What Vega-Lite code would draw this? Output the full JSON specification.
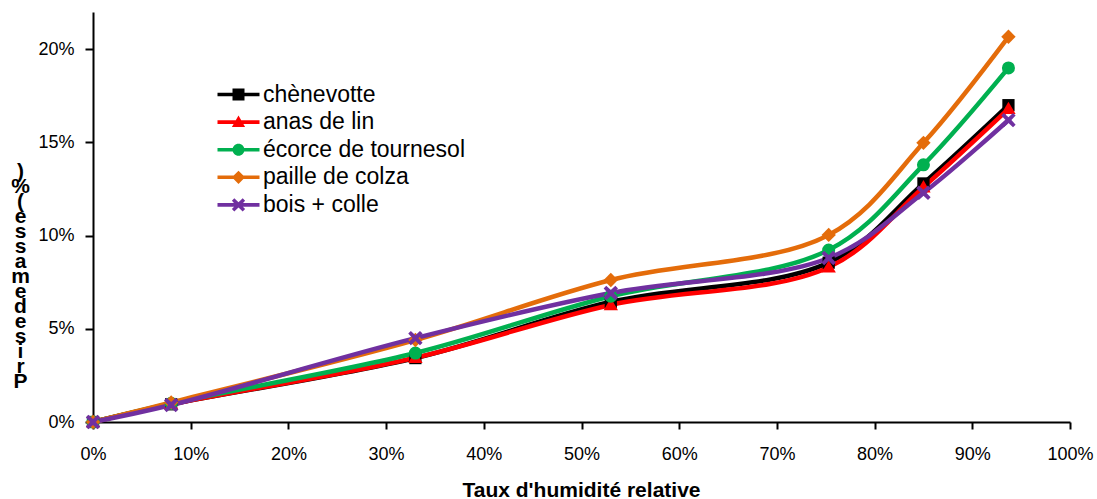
{
  "$schema": "https://vega.github.io/schema/vega-lite/v6.json",
  "width": 977,
  "height": 410,
  "autosize": {"type": "none"},
  "padding": {"left": 93, "top": 12, "right": 27, "bottom": 77},
  "background": "white",
  "config": {
    "view": {"stroke": null},
    "font": "Liberation Sans",
    "axisY": {"titleFontSize": 21, "titleLineHeight": 15, "titleFontWeight": "bold"}
  },
  "data": {
    "values": [
      {"material": "chènevotte", "rh": 0, "gain": 0},
      {"material": "chènevotte", "rh": 0.08, "gain": 0.0095},
      {"material": "chènevotte", "rh": 0.33, "gain": 0.0343},
      {"material": "chènevotte", "rh": 0.53, "gain": 0.0645},
      {"material": "chènevotte", "rh": 0.753, "gain": 0.0855},
      {"material": "chènevotte", "rh": 0.85, "gain": 0.128},
      {"material": "chènevotte", "rh": 0.937, "gain": 0.170},
      {"material": "anas de lin", "rh": 0, "gain": 0},
      {"material": "anas de lin", "rh": 0.08, "gain": 0.0095},
      {"material": "anas de lin", "rh": 0.33, "gain": 0.0345},
      {"material": "anas de lin", "rh": 0.53, "gain": 0.0628},
      {"material": "anas de lin", "rh": 0.753, "gain": 0.083},
      {"material": "anas de lin", "rh": 0.85, "gain": 0.126},
      {"material": "anas de lin", "rh": 0.937, "gain": 0.168},
      {"material": "écorce de tournesol", "rh": 0, "gain": 0},
      {"material": "écorce de tournesol", "rh": 0.08, "gain": 0.010},
      {"material": "écorce de tournesol", "rh": 0.33, "gain": 0.037},
      {"material": "écorce de tournesol", "rh": 0.53, "gain": 0.0675},
      {"material": "écorce de tournesol", "rh": 0.753, "gain": 0.0923},
      {"material": "écorce de tournesol", "rh": 0.85, "gain": 0.138},
      {"material": "écorce de tournesol", "rh": 0.937, "gain": 0.190},
      {"material": "paille de colza", "rh": 0, "gain": 0},
      {"material": "paille de colza", "rh": 0.08, "gain": 0.0105},
      {"material": "paille de colza", "rh": 0.33, "gain": 0.044},
      {"material": "paille de colza", "rh": 0.53, "gain": 0.0762},
      {"material": "paille de colza", "rh": 0.753, "gain": 0.1004},
      {"material": "paille de colza", "rh": 0.85, "gain": 0.1498},
      {"material": "paille de colza", "rh": 0.937, "gain": 0.2067},
      {"material": "bois + colle", "rh": 0, "gain": 0},
      {"material": "bois + colle", "rh": 0.08, "gain": 0.0091},
      {"material": "bois + colle", "rh": 0.33, "gain": 0.045},
      {"material": "bois + colle", "rh": 0.53, "gain": 0.0692},
      {"material": "bois + colle", "rh": 0.753, "gain": 0.088},
      {"material": "bois + colle", "rh": 0.85, "gain": 0.123},
      {"material": "bois + colle", "rh": 0.937, "gain": 0.162}
    ]
  },
  "encoding": {
    "x": {
      "field": "rh",
      "type": "quantitative",
      "scale": {"domain": [0, 1], "nice": false, "zero": true},
      "axis": {
        "values": [0, 0.1, 0.2, 0.3, 0.4, 0.5, 0.6, 0.7, 0.8, 0.9, 1],
        "format": ".0%",
        "grid": false,
        "labelFlush": false,
        "labelOverlap": false,
        "domainColor": "black",
        "domainWidth": 2,
        "tickColor": "black",
        "tickWidth": 2,
        "tickSize": 7,
        "labelFontSize": 18,
        "labelColor": "black",
        "labelPadding": 16,
        "labelFont": "Liberation Sans",
        "title": "Taux d'humidité relative",
        "titleFontSize": 21,
        "titleFontWeight": "bold",
        "titleColor": "black",
        "titleBaseline": "alphabetic",
        "titleY": 74,
        "titleX": 488
      }
    },
    "y": {
      "field": "gain",
      "type": "quantitative",
      "scale": {"domain": [0, 0.22], "nice": false},
      "axis": {
        "values": [0, 0.05, 0.1, 0.15, 0.2],
        "format": ".0%",
        "grid": false,
        "labelFlush": false,
        "domainColor": "black",
        "domainWidth": 2,
        "tickColor": "black",
        "tickWidth": 2,
        "tickSize": 8,
        "labelFontSize": 18,
        "labelColor": "black",
        "labelPadding": 11,
        "title": [")", "%", "(", " ", "e", "s", "s", "a", "m", " ", "e", "d", " ", "e", "s", "i", "r", "P"],
        "titleAngle": 0,
        "titleFontSize": 21,
        "titleFontWeight": "bold",
        "titleColor": "black",
        "titleLineHeight": 15,
        "titleAlign": "center",
        "titleBaseline": "top",
        "titleX": -73,
        "titleY": 148
      }
    },
    "color": {
      "field": "material",
      "type": "nominal",
      "sort": ["chènevotte", "anas de lin", "écorce de tournesol", "paille de colza", "bois + colle"],
      "scale": {
        "domain": ["chènevotte", "anas de lin", "écorce de tournesol", "paille de colza", "bois + colle"],
        "range": ["#000000", "#FF0000", "#00B050", "#E46C0A", "#7030A0"]
      },
      "legend": {
        "orient": "none",
        "legendX": 134,
        "legendY": 71,
        "title": null,
        "padding": 0,
        "labelFontSize": 23,
        "labelColor": "black",
        "labelFont": "Liberation Sans",
        "labelLimit": 500,
        "symbolSize": 144,
        "labelOffset": 13,
        "rowPadding": 3.6,
        "encode": {
          "symbols": {
            "update": {
              "shape": {"signal": "datum.value === 'chènevotte' ? 'M-3.5,-0.3H3.5V0.3H-3.5Z M-1,-1H1V1H-1Z' : datum.value === 'anas de lin' ? 'M-3.5,-0.3H3.5V0.3H-3.5Z M0,-1.1L1.1,0.8H-1.1Z' : datum.value === 'écorce de tournesol' ? 'M-3.5,-0.3H3.5V0.3H-3.5Z M-1,0A1,1,0,1,1,1,0A1,1,0,1,1,-1,0Z' : datum.value === 'paille de colza' ? 'M-3.5,-0.3H3.5V0.3H-3.5Z M0,-1.1L1.1,0L0,1.1L-1.1,0Z' : 'M-3.5,-0.3H3.5V0.3H-3.5Z M-1.1,-0.7L-0.7,-1.1L0,-0.45L0.7,-1.1L1.1,-0.7L0.45,0L1.1,0.7L0.7,1.1L0,0.45L-0.7,1.1L-1.1,0.7L-0.45,0Z'"},
              "fill": {"scale": "color", "field": "value"},
              "fillOpacity": {"value": 1},
              "opacity": {"value": 1},
              "strokeWidth": {"value": 0}
            }
          }
        }
      }
    }
  },
  "layer": [
    {
      "mark": {"type": "line", "interpolate": "catmull-rom", "strokeWidth": 4.5},
      "encoding": {}
    },
    {
      "transform": [{"filter": "datum.material === 'chènevotte'"}],
      "mark": {"type": "point", "filled": true, "opacity": 1, "size": 150, "shape": "square"}
    },
    {
      "transform": [{"filter": "datum.material === 'anas de lin'"}],
      "mark": {"type": "point", "filled": true, "opacity": 1, "size": 170, "shape": "M0,-1.1L1.1,0.8H-1.1Z"}
    },
    {
      "transform": [{"filter": "datum.material === 'écorce de tournesol'"}],
      "mark": {"type": "point", "filled": true, "opacity": 1, "size": 170, "shape": "circle"}
    },
    {
      "transform": [{"filter": "datum.material === 'paille de colza'"}],
      "mark": {"type": "point", "filled": true, "opacity": 1, "size": 170, "shape": "M0,-1.1L1.1,0L0,1.1L-1.1,0Z"}
    },
    {
      "transform": [{"filter": "datum.material === 'bois + colle'"}],
      "mark": {"type": "point", "filled": true, "opacity": 1, "size": 170, "shape": "M-1.1,-0.7L-0.7,-1.1L0,-0.45L0.7,-1.1L1.1,-0.7L0.45,0L1.1,0.7L0.7,1.1L0,0.45L-0.7,1.1L-1.1,0.7L-0.45,0Z"}
    }
  ]
}
